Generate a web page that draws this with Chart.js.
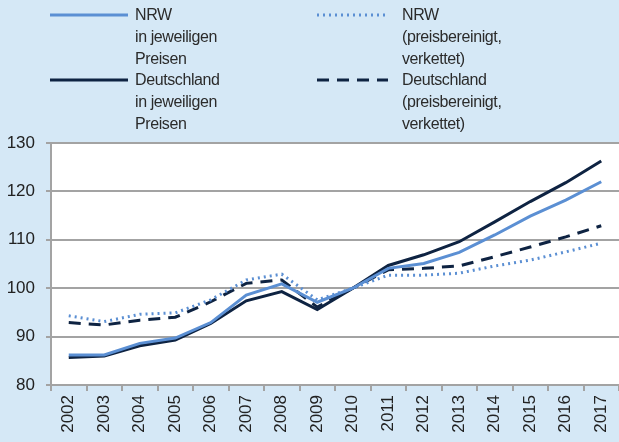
<!DOCTYPE html>
<html>
<head>
<meta charset="utf-8">
<script src="https://cdn.jsdelivr.net/npm/chart.js@4"></script>
<style>
  html, body { margin: 0; padding: 0; background: #d5e8f6; }
  #wrap { position: relative; width: 619px; height: 442px; }
  #legend { position: absolute; left: 0; top: 0; font-family: "Liberation Sans", Arial, sans-serif; font-size: 16px; letter-spacing: -0.4px; color: #2b2b2b; }
  .item { position: absolute; }
  .item svg { position: absolute; }
  .item .txt { position: absolute; line-height: 22px; white-space: nowrap; }
</style>
</head>
<body>
<div id="wrap">
  <canvas id="chart" width="619" height="442"></canvas>
  <div id="legend"></div>
</div>
<script>
const years = ["2002","2003","2004","2005","2006","2007","2008","2009","2010","2011","2012","2013","2014","2015","2016","2017"];
const nrwNominal = [86.2, 86.2, 88.6, 89.7, 92.9, 98.6, 100.9, 97.1, 100, 104.1, 105.1, 107.4, 111, 114.9, 118.2, 122];
const nrwReal = [94.3, 93.1, 94.6, 94.9, 97.6, 101.7, 102.9, 97.6, 100, 102.7, 102.7, 103.1, 104.6, 105.8, 107.5, 109.3];
const deNominal = [85.7, 86, 88.1, 89.3, 92.7, 97.4, 99.3, 95.6, 100, 104.7, 106.9, 109.6, 113.7, 117.9, 121.8, 126.3];
const deReal = [92.9, 92.4, 93.4, 94, 97.2, 101, 101.7, 96.1, 100, 103.8, 104.1, 104.6, 106.5, 108.5, 110.6, 112.9];
const yTicks = [80, 90, 100, 110, 120, 130];

const lightBlue = "#5b8fd3";
const navy = "#0e2342";

const datasets = [
  { label: ["NRW", "in jeweiligen", "Preisen"], data: nrwNominal, borderColor: lightBlue, borderDash: [] },
  { label: ["NRW", "(preisbereinigt,", "verkettet)"], data: nrwReal, borderColor: lightBlue, borderDash: [2, 4] },
  { label: ["Deutschland", "in jeweiligen", "Preisen"], data: deNominal, borderColor: navy, borderDash: [] },
  { label: ["Deutschland", "(preisbereinigt,", "verkettet)"], data: deReal, borderColor: navy, borderDash: [12, 8] }
];

// white plot area
const plotBg = {
  id: "plotBg",
  beforeDraw(chart) {
    const a = chart.chartArea;
    const ctx = chart.ctx;
    ctx.save();
    ctx.fillStyle = "#ffffff";
    ctx.fillRect(a.left, a.top, a.right - a.left, a.bottom - a.top);
    ctx.restore();
  }
};

new Chart(document.getElementById("chart"), {
  type: "line",
  data: {
    labels: years,
    datasets: datasets.map(d => ({
      label: d.label.join(" "),
      data: d.data,
      borderColor: d.borderColor,
      borderDash: d.borderDash,
      borderWidth: 3,
      pointRadius: 0,
      tension: 0,
      fill: false
    }))
  },
  options: {
    responsive: false,
    animation: false,
    layout: { padding: { top: 143, right: 0, left: 0, bottom: 0 } },
    plugins: { legend: { display: false }, tooltip: { enabled: false } },
    scales: {
      x: {
        offset: true,
        grid: { offset: true, drawOnChartArea: false, drawTicks: true, tickLength: 6, color: "#a3a3a3", lineWidth: 2 },
        border: { color: "#a3a3a3", width: 2 },
        ticks: {
          minRotation: 90, maxRotation: 90, color: "#222",
          font: { family: "Liberation Sans", size: 17 }, padding: 4
        },
        afterFit(s) { s.height = 57; s.paddingLeft = 0; s.paddingRight = 0; }
      },
      y: {
        min: 80, max: 130,
        afterBuildTicks(s) { s.ticks = yTicks.map(v => ({ value: v })); },
        grid: { color: "#a3a3a3", lineWidth: 2, tickLength: 5 },
        border: { color: "#a3a3a3", width: 2 },
        ticks: { color: "#222", font: { family: "Liberation Sans", size: 17 }, padding: 11 },
        afterFit(s) { s.width = 51; s.paddingTop = 0; s.paddingBottom = 0; }
      }
    }
  },
  plugins: [plotBg]
});

// legend in two columns
const legendPos = [
  { x: 50, y: 4 }, { x: 317, y: 4 }, { x: 50, y: 69 }, { x: 317, y: 69 }
];
const legend = document.getElementById("legend");
datasets.forEach((d, i) => {
  const p = legendPos[i];
  const item = document.createElement("div");
  item.className = "item";
  item.style.left = p.x + "px";
  item.style.top = p.y + "px";
  const w = i % 2 === 0 ? 78 : 71;
  item.innerHTML =
    '<svg width="' + w + '" height="6" style="left:0;top:8px">' +
    '<line x1="0" y1="3" x2="' + w + '" y2="3" stroke="' + d.borderColor + '" stroke-width="3" stroke-dasharray="' + (d.borderDash.join(" ") || "none") + '"/></svg>' +
    '<div class="txt" style="left:' + (i % 2 === 0 ? 85 : 85) + 'px;top:0">' + d.label.join("<br>") + '</div>';
  legend.appendChild(item);
});
</script>
</body>
</html>
